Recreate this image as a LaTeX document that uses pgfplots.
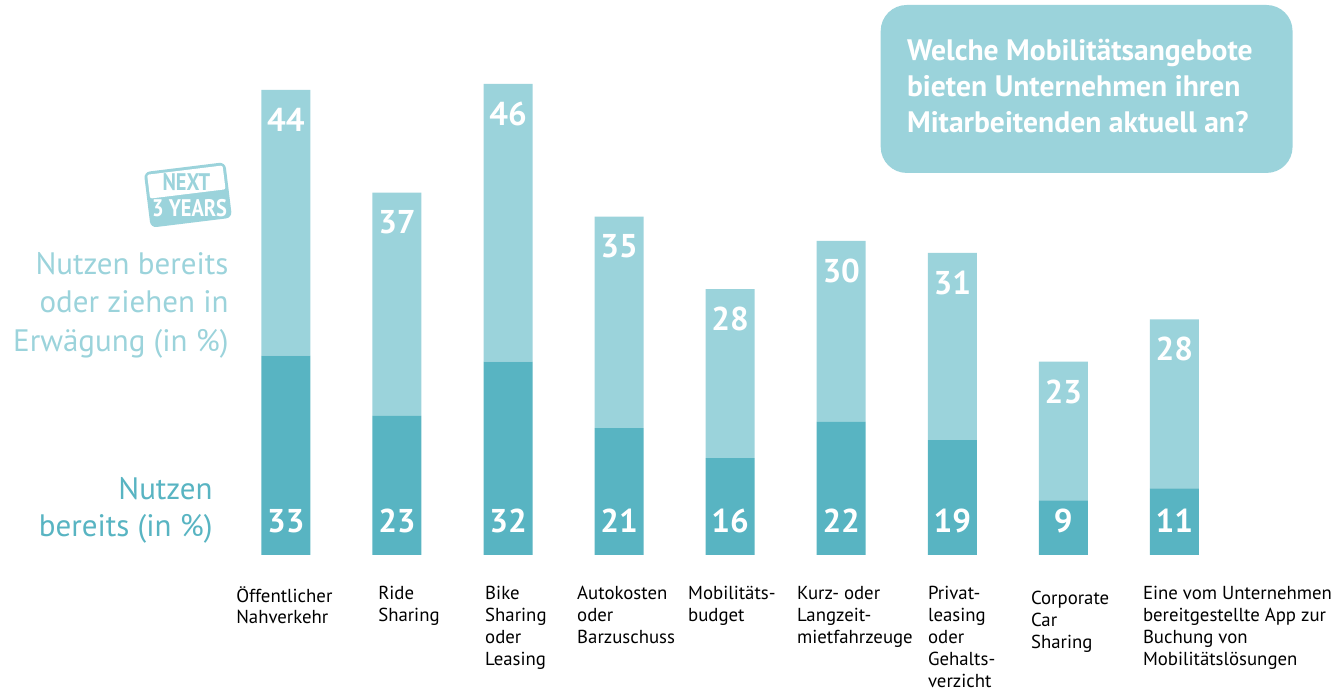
\documentclass[border=0pt]{standalone}
\usepackage{pgfplots}
\pgfplotsset{compat=1.18}
\usepackage{fontspec}
\setmainfont{PT Sans}
\definecolor{dark}{HTML}{58B4C2}
\definecolor{light}{HTML}{9BD3DB}
\begin{document}
\begin{tikzpicture}
\begin{scope}[x=0.5pt,y=-0.5pt,shift={(0pt,345pt)}]
\path[use as bounding box] (0,0) rectangle (1332,690);
\end{scope}
\pgfplotsset{myax/.style={at={(87.45pt,67.5pt)},anchor=south west,scale only axis,
  width=555.5pt,height=241.6pt,xmin=-1,xmax=9,ymin=0,ymax=80,hide axis,clip=false,
  /pgf/number format/assume math mode=true}}
\begin{axis}[myax,ybar stacked,bar width=24.5pt]
\addplot[fill=dark,draw=none] coordinates {(0,33) (1,23) (2,32) (3,21) (4,16) (5,22) (6,19) (7,9) (8,11)};
\addplot[fill=light,draw=none] coordinates {(0,44) (1,37) (2,46) (3,35) (4,28) (5,30) (6,31) (7,23) (8,28)};
\end{axis}
\begin{axis}[myax]
\addplot[only marks,mark=none,nodes near coords,point meta=explicit,
  nodes near coords style={anchor=center,yshift=17pt,text=white,font=\fontsize{16.5}{18}\selectfont\bfseries}]
  table[meta=m]{
x y m
0 0 33
1 0 23
2 0 32
3 0 21
4 0 16
5 0 22
6 0 19
7 0 9
8 0 11
};
\addplot[only marks,mark=none,nodes near coords,point meta=explicit,
  nodes near coords style={anchor=center,yshift=-15pt,text=white,font=\fontsize{16.5}{18}\selectfont\bfseries}]
  table[meta=m]{
x y m
0 77 44
1 60 37
2 78 46
3 56 35
4 44 28
5 52 30
6 50 31
7 32 23
8 39 28
};
\end{axis}
\begin{scope}[x=0.5pt,y=-0.5pt,shift={(0pt,345pt)}]
% title box
\fill[light,rounded corners=13pt] (881,5) rectangle (1293,173);
\node[anchor=north west,inner sep=0pt,align=left,text=white,font=\fontsize{14.8}{18}\selectfont\bfseries] at (907,39)
 {Welche Mobilitätsangebote\\bieten Unternehmen ihren\\Mitarbeitenden aktuell an?};
% left labels
\node[anchor=north east,inner sep=0pt,align=right,text=light,font=\fontsize{15.5}{19.3}\selectfont] at (229,252)
 {Nutzen bereits\\oder ziehen in\\Erwägung (in \%)};
\node[anchor=north east,inner sep=0pt,align=right,text=dark,font=\fontsize{15.5}{18.5}\selectfont] at (213,477)
 {Nutzen\\bereits (in \%)};
% badge
\begin{scope}[shift={(188,195)},rotate=7]
\fill[light,rounded corners=3pt] (-41,-28) rectangle (41,28);
\fill[white,rounded corners=1pt] (-38,-25) rectangle (38,-1);
\node[text=light,font=\fontsize{12}{12}\selectfont\bfseries,inner sep=0pt,xscale=0.85] at (0,-13) {NEXT};
\node[text=white,font=\fontsize{12}{12}\selectfont\bfseries,inner sep=0pt,xscale=0.85] at (0,13) {3 YEARS};
\end{scope}
% category labels
\tikzset{cat/.style={anchor=north west,inner sep=0pt,align=left,font=\fontsize{9.4}{11}\selectfont}}
\node[cat] at (236,586) {Öffentlicher\\Nahverkehr};
\node[cat] at (378,586) {Ride\\Sharing};
\node[cat] at (485,586) {Bike\\Sharing\\oder\\Leasing};
\node[cat] at (577,586) {Autokosten\\oder\\Barzuschuss};
\node[cat] at (688,586) {Mobilitäts-\\budget};
\node[cat] at (797,586) {Kurz- oder\\Langzeit-\\mietfahrzeuge};
\node[cat] at (928,586) {Privat-\\leasing\\oder\\Gehalts-\\verzicht};
\node[cat] at (1031,591) {Corporate\\Car\\Sharing};
\node[cat] at (1143,586) {Eine vom Unternehmen\\bereitgestellte App zur\\Buchung von\\Mobilitätslösungen};
\end{scope}
\end{tikzpicture}
\end{document}
